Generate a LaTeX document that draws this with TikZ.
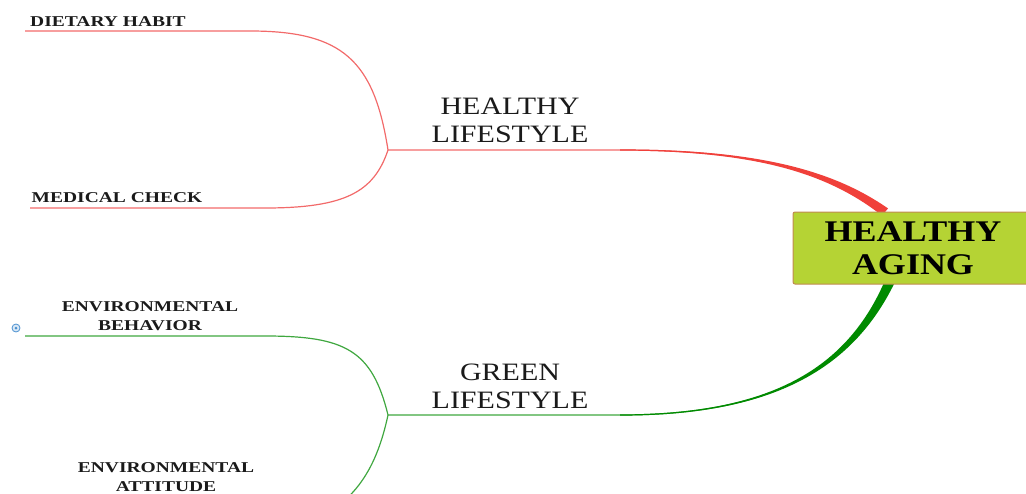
\documentclass[tikz,border=0pt]{standalone}
\usepackage{fontspec}
\setmainfont{Liberation Serif}
\newfontfamily\wideserif{Liberation Serif}[FakeStretch=1.2]
\newfontfamily\widerserif{Liberation Serif}[FakeStretch=1.3]
\usetikzlibrary{backgrounds}
\definecolor{AgingFill}{HTML}{B5D334}
\definecolor{AgingEdge}{HTML}{C08A50}
\definecolor{BranchRed}{HTML}{F0403A}
\definecolor{TwigRed}{HTML}{F26A6A}
\definecolor{BranchGreen}{HTML}{008A00}
\definecolor{TwigGreen}{HTML}{3FA73F}
\definecolor{IconBlue}{HTML}{4A90D0}
\definecolor{TextDark}{HTML}{1A1A1A}
\begin{document}
\begin{tikzpicture}[x=1pt,y=-1pt,
  mid/.style={font=\wideserif\fontsize{25}{28}\selectfont, align=center, text=TextDark, inner sep=0pt},
  leaf/.style={font=\widerserif\bfseries\fontsize{15}{19}\selectfont, align=center, text=TextDark, inner sep=0pt},
  twigR/.style={draw=TwigRed, line width=1.2pt},
  twigG/.style={draw=TwigGreen, line width=1.2pt}]
  \clip (0,0) rectangle (1026,493);
  \node[draw=AgingEdge, fill=AgingFill, rounded corners=2pt, minimum width=240pt,
    minimum height=72pt, inner sep=0pt, align=center, text=black, line width=1pt,
    font=\wideserif\bfseries\fontsize{30}{33}\selectfont]
  (aging) at (913,248) {HEALTHY\\AGING};
  \node[mid] (hl) at (510,120) {HEALTHY\\LIFESTYLE};
  \node[mid] (gl) at (510,386) {GREEN\\LIFESTYLE};
  \node[leaf] (diet) at (108,22) {DIETARY HABIT};
  \node[leaf] (med) at (117,198) {MEDICAL CHECK};
  \node[leaf] (envb) at (150,316) {ENVIRONMENTAL\\BEHAVIOR};
  \node[leaf] (enva) at (166,477) {ENVIRONMENTAL\\ATTITUDE};
  \node[circle, draw=IconBlue, fill=IconBlue!20, minimum size=8pt, inner sep=0pt,
    line width=0.8pt] (pin) at (16,328) {};
  \fill[IconBlue] (pin) circle (1.5pt);
  \coordinate (hlfork) at (388,150);
  \coordinate (glfork) at (388,415);
  \coordinate (hltip) at ([xshift=-28pt]aging.north);
  \coordinate (gltip) at ([xshift=-23pt,yshift=3pt]aging.south);
  \coordinate (dietend) at (25,31);
  \coordinate (medend) at (30,208);
  \coordinate (envbend) at (25,336);
  \coordinate (envaend) at (25,540);
  \begin{scope}[on background layer]
    \draw[twigR] (hlfork) .. controls (374,60) and (342,31) .. (250,31) -- (dietend);
    \draw[twigR] (hlfork) .. controls (374,192) and (345,208) .. (265,208) -- (medend);
    \draw[twigG] (glfork) .. controls (372,350) and (345,336) .. (265,336) -- (envbend);
    \draw[twigG] (glfork) .. controls (372,490) and (335,530) .. (240,535) -- (envaend);
    \draw[twigR] (hlfork) -- (620,150) .. controls (760,150) and (832,173) .. (hltip);
    \draw[twigG] (glfork) -- (620,415) .. controls (770,415) and (850,370) .. (gltip);
    \fill[BranchRed] (620,149.4) .. controls (760,149.4) and (834,171) .. (888,208.4)
      -- (882,215.6) .. controls (830,175) and (760,150.6) .. (620,150.6) -- cycle;
    \fill[BranchGreen] (620,415.6) .. controls (770,415.6) and (852,371) .. (895,282)
      -- (886,278) .. controls (848,369) and (770,414.4) .. (620,414.4) -- cycle;
  \end{scope}
\end{tikzpicture}
\end{document}
